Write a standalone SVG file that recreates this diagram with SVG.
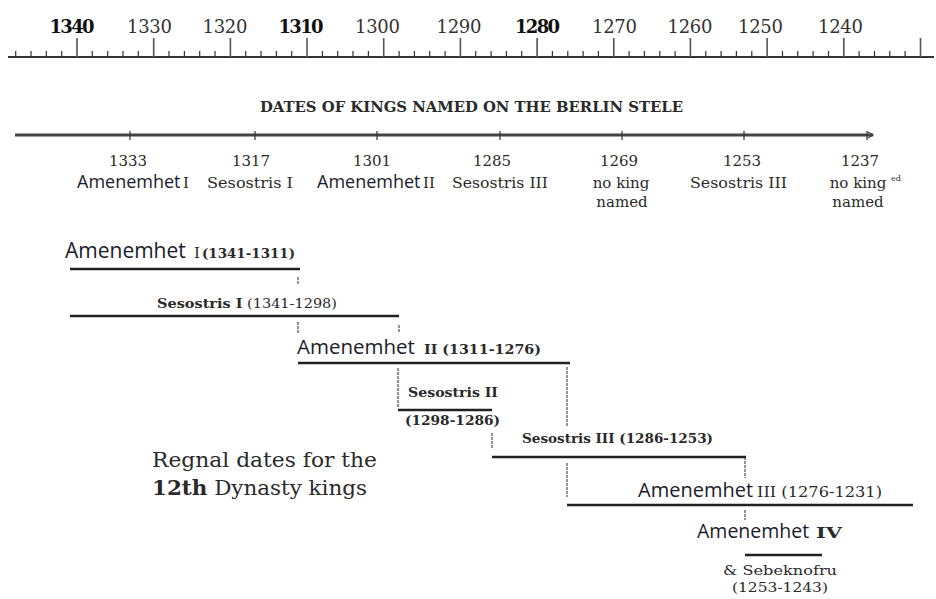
<svg xmlns="http://www.w3.org/2000/svg" width="936" height="599" viewBox="0 0 936 599">
<style>
.yr{font-family:"DejaVu Serif","Liberation Serif",serif;font-size:18px;fill:#333;text-anchor:middle}
.b{font-weight:bold;fill:#111}
.sf{font-family:"DejaVu Serif","Liberation Serif",serif;fill:#2a2a2a}
.ss{font-family:"Open Sans","Liberation Sans",sans-serif;fill:#1b1b2b}
.mid{text-anchor:middle}
.bar{stroke:#222;stroke-width:2.5;fill:none}
.con{stroke:#888;stroke-width:1.8;stroke-dasharray:3 1;fill:none}
.tick{stroke:#333;stroke-width:1.2;fill:none}
</style>
<rect width="936" height="599" fill="#fff"/>

<g id="ruler">
  <line x1="8" y1="57" x2="934" y2="57" stroke="#333" stroke-width="2"/>
  <path class="tick" d="M15.7 51V57M31 51V57M46.3 51V57M61.7 51V57M92.3 51V57M107.7 51V57M123 51V57M138.3 51V57M169 51V57M184.4 51V57M199.7 51V57M215 51V57M245.7 51V57M261 51V57M276.4 51V57M291.7 51V57M322.4 51V57M337.7 51V57M353 51V57M368.4 51V57M399.1 51V57M414.4 51V57M429.7 51V57M445.1 51V57M475.7 51V57M491.1 51V57M506.4 51V57M521.7 51V57M552.4 51V57M567.8 51V57M583.1 51V57M598.4 51V57M629.1 51V57M644.4 51V57M659.8 51V57M675.1 51V57M705.8 51V57M721.1 51V57M736.4 51V57M751.8 51V57M782.5 51V57M797.8 51V57M813.1 51V57M828.5 51V57M859.1 51V57M874.5 51V57M889.8 51V57M905.1 51V57"/>
  <path d="M77 38V57M153.7 38V57M230.4 38V57M307 38V57M383.7 38V57M460.4 38V57M537.1 38V57M613.8 38V57M690.4 38V57M767.1 38V57M843.8 38V57M920.5 38V57" stroke="#555" stroke-width="1.6" fill="none"/>
  <text class="yr b" x="72" y="33" textLength="45">1340</text>
  <text class="yr" x="149.5" y="33" textLength="45">1330</text>
  <text class="yr" x="225" y="33" textLength="45">1320</text>
  <text class="yr b" x="301" y="33" textLength="45">1310</text>
  <text class="yr" x="377.5" y="33" textLength="45">1300</text>
  <text class="yr" x="459" y="33" textLength="45">1290</text>
  <text class="yr b" x="537.5" y="33" textLength="45">1280</text>
  <text class="yr" x="614.5" y="33" textLength="45">1270</text>
  <text class="yr" x="690" y="33" textLength="45">1260</text>
  <text class="yr" x="760.5" y="33" textLength="45">1250</text>
  <text class="yr" x="840.5" y="33" textLength="45">1240</text>
</g>

<g id="stele-timeline">
  <text class="sf" x="260" y="112" font-size="15" font-weight="bold" fill="#222" textLength="423" lengthAdjust="spacingAndGlyphs">DATES OF KINGS NAMED ON THE BERLIN STELE</text>
  <line x1="15" y1="135" x2="873" y2="135" stroke="#444" stroke-width="3"/>
  <path d="M868 132L873 135L868 138" fill="none" stroke="#444" stroke-width="1.3"/>
  <path class="tick" d="M130 131V140M255 131V140M377 131V140M500 131V140M622 131V140M744 131V140M867 131V140"/>
  <g font-size="15" fill="#222">
    <text class="sf mid" x="128" y="166">1333</text>
    <text class="sf mid" x="251" y="166">1317</text>
    <text class="sf mid" x="372" y="166">1301</text>
    <text class="sf mid" x="492" y="166">1285</text>
    <text class="sf mid" x="619" y="166">1269</text>
    <text class="sf mid" x="742" y="166">1253</text>
    <text class="sf mid" x="860" y="166">1237</text>
  </g>
  <text x="77" y="188"><tspan class="ss" font-size="18">Amenemhet</tspan><tspan class="sf" font-size="15" x="183">I</tspan></text>
  <text class="sf" x="207" y="188" font-size="15" textLength="86" lengthAdjust="spacingAndGlyphs">Sesostris I</text>
  <text x="317" y="188"><tspan class="ss" font-size="18">Amenemhet</tspan><tspan class="sf" font-size="15" x="423">II</tspan></text>
  <text class="sf" x="452" y="188" font-size="15" textLength="96" lengthAdjust="spacingAndGlyphs">Sesostris III</text>
  <text class="sf mid" x="621" y="188" font-size="15">no king</text>
  <text class="sf mid" x="622" y="207" font-size="15">named</text>
  <text class="sf" x="690" y="188" font-size="15" textLength="97" lengthAdjust="spacingAndGlyphs">Sesostris III</text>
  <text class="sf mid" x="858" y="188" font-size="15">no king</text>
  <text class="sf mid" x="858" y="207" font-size="15">named</text>
  <text class="sf" x="891" y="181" font-size="8">ed</text>
</g>

<g id="connectors">
  <path class="con" d="M298 277V284"/>
  <path class="con" d="M298 322V334"/>
  <path class="con" d="M399 325V333"/>
  <path class="con" d="M398 368V407"/>
  <path class="con" d="M567 367V427"/>
  <path class="con" d="M492 433V448"/>
  <path class="con" d="M745 457V478"/>
  <path class="con" d="M567 463V497"/>
  <path class="con" d="M745 510V520"/>
</g>

<g id="amenemhet-1">
  <text x="65" y="258"><tspan class="ss" font-size="21">Amenemhet</tspan><tspan class="sf" x="194" font-size="15" fill="#999">I</tspan><tspan class="sf" x="202" font-size="13" font-weight="bold" textLength="93" lengthAdjust="spacingAndGlyphs">(1341-1311)</tspan></text>
  <line class="bar" x1="70" y1="269" x2="300" y2="269"/>
</g>

<g id="sesostris-1">
  <text class="sf" x="157" y="308" font-size="13" textLength="180" lengthAdjust="spacingAndGlyphs"><tspan font-weight="bold">Sesostris I</tspan> (1341-1298)</text>
  <line class="bar" x1="70" y1="316" x2="399" y2="316"/>
</g>

<g id="amenemhet-2">
  <text x="297" y="354"><tspan class="ss" font-size="20.5">Amenemhet</tspan><tspan class="sf" x="424" font-size="13" font-weight="bold" textLength="117" lengthAdjust="spacingAndGlyphs">II (1311-1276)</tspan></text>
  <line class="bar" x1="298" y1="363" x2="570" y2="363" stroke-width="3"/>
</g>

<g id="sesostris-2">
  <text class="sf" x="408" y="397" font-size="13" font-weight="bold" textLength="90" lengthAdjust="spacingAndGlyphs">Sesostris II</text>
  <line class="bar" x1="398" y1="410" x2="492" y2="410" stroke-width="2"/>
  <text class="sf" x="405" y="425" font-size="13" font-weight="bold" textLength="95" lengthAdjust="spacingAndGlyphs">(1298-1286)</text>
</g>

<g id="sesostris-3">
  <text class="sf" x="522" y="443" font-size="13" font-weight="bold" textLength="191" lengthAdjust="spacingAndGlyphs">Sesostris III (1286-1253)</text>
  <line class="bar" x1="492" y1="457" x2="746" y2="457"/>
</g>

<g id="amenemhet-3">
  <text x="638" y="497"><tspan class="ss" font-size="20">Amenemhet</tspan><tspan class="sf" x="757" font-size="14" textLength="125" lengthAdjust="spacingAndGlyphs">III (1276-1231)</tspan></text>
  <line class="bar" x1="567" y1="505" x2="913" y2="505" stroke-width="3.5"/>
</g>

<g id="amenemhet-4">
  <text x="697" y="538"><tspan class="ss" font-size="19.5">Amenemhet</tspan><tspan class="sf" x="816" font-size="14" font-weight="bold" textLength="26" lengthAdjust="spacingAndGlyphs">IV</tspan></text>
  <line class="bar" x1="745" y1="555" x2="822" y2="555" stroke-width="2"/>
  <text class="sf" x="723" y="575" font-size="13" textLength="114" lengthAdjust="spacingAndGlyphs">&amp; Sebeknofru</text>
  <text class="sf" x="732" y="592" font-size="13" textLength="96" lengthAdjust="spacingAndGlyphs">(1253-1243)</text>
</g>

<g id="caption">
  <text class="sf" x="152" y="467" font-size="21" fill="#333" textLength="225" lengthAdjust="spacingAndGlyphs">Regnal dates for the</text>
  <text class="sf" x="152" y="495" font-size="21" fill="#333" textLength="215" lengthAdjust="spacingAndGlyphs"><tspan font-weight="bold">12th</tspan> Dynasty kings</text>
</g>
</svg>
